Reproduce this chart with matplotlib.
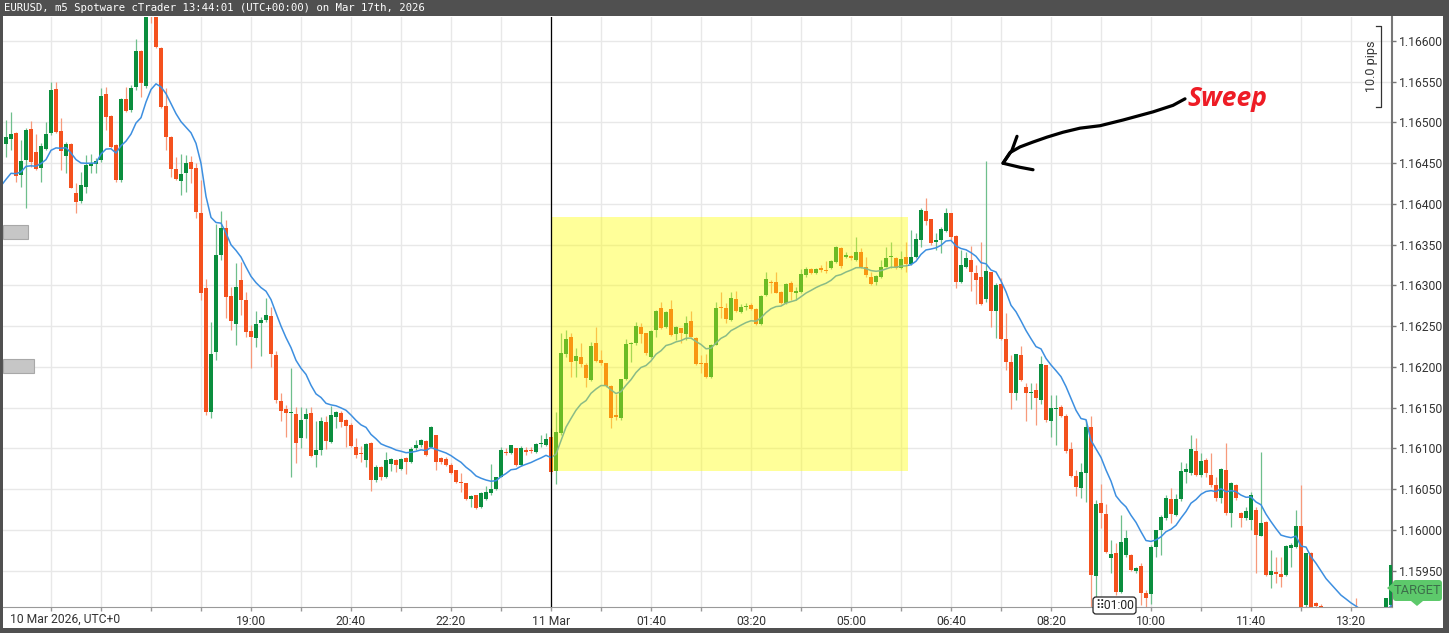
import numpy as np
import pandas as pd
import matplotlib
matplotlib.use('Agg')
import matplotlib.pyplot as plt
from matplotlib.patches import Rectangle, Polygon, FancyBboxPatch
from matplotlib.lines import Line2D
from matplotlib.transforms import IdentityTransform

# EURUSD m5 candles (open, high, low, close), first bar 10 Mar 14:50 UTC
first_bar = '2026-03-10 14:50'

mar10_day = [
    (1.16436, 1.16487, 1.16433, 1.16482), (1.16474, 1.16503, 1.16458, 1.16482),
    (1.16480, 1.16513, 1.16466, 1.16486), (1.16487, 1.16488, 1.16427, 1.16434),
    (1.16436, 1.16479, 1.16421, 1.16453), (1.16454, 1.16493, 1.16395, 1.16491),
    (1.16492, 1.16502, 1.16445, 1.16451), (1.16464, 1.16486, 1.16442, 1.16443),
    (1.16444, 1.16475, 1.16427, 1.16471), (1.16467, 1.16501, 1.16466, 1.16486),
    (1.16487, 1.16550, 1.16485, 1.16540), (1.16541, 1.16550, 1.16487, 1.16488),
    (1.16489, 1.16506, 1.16442, 1.16465), (1.16459, 1.16476, 1.16438, 1.16474),
    (1.16474, 1.16475, 1.16419, 1.16420), (1.16413, 1.16426, 1.16389, 1.16402),
    (1.16404, 1.16439, 1.16401, 1.16423), (1.16421, 1.16460, 1.16413, 1.16448),
    (1.16447, 1.16461, 1.16438, 1.16450), (1.16449, 1.16456, 1.16438, 1.16453),
    (1.16454, 1.16542, 1.16451, 1.16532), (1.16535, 1.16543, 1.16491, 1.16507),
    (1.16508, 1.16509, 1.16469, 1.16470), (1.16472, 1.16473, 1.16427, 1.16429),
    (1.16429, 1.16530, 1.16427, 1.16529), (1.16529, 1.16543, 1.16513, 1.16514),
    (1.16515, 1.16546, 1.16513, 1.16542), (1.16544, 1.16602, 1.16540, 1.16588),
    (1.16588, 1.16589, 1.16531, 1.16548), (1.16545, 1.16655, 1.16542, 1.16650),
    (1.16650, 1.16663, 1.16622, 1.16640), (1.16638, 1.16644, 1.16591, 1.16593),
    (1.16591, 1.16593, 1.16518, 1.16519), (1.16520, 1.16542, 1.16466, 1.16482),
    (1.16482, 1.16483, 1.16433, 1.16443), (1.16443, 1.16458, 1.16429, 1.16431),
    (1.16428, 1.16461, 1.16411, 1.16437), (1.16438, 1.16460, 1.16415, 1.16450),
    (1.16451, 1.16459, 1.16426, 1.16443), (1.16444, 1.16450, 1.16383, 1.16390),
]

mar10_evening = [
    (1.16389, 1.16429, 1.16282, 1.16291), (1.16297, 1.16308, 1.16141, 1.16145),
    (1.16145, 1.16255, 1.16137, 1.16216), (1.16218, 1.16375, 1.16209, 1.16337),
    (1.16337, 1.16391, 1.16331, 1.16371), (1.16371, 1.16380, 1.16260, 1.16286),
    (1.16287, 1.16298, 1.16245, 1.16256), (1.16253, 1.16328, 1.16227, 1.16298),
    (1.16307, 1.16329, 1.16264, 1.16282), (1.16282, 1.16292, 1.16237, 1.16243),
    (1.16244, 1.16252, 1.16199, 1.16237), (1.16235, 1.16269, 1.16225, 1.16253),
    (1.16254, 1.16261, 1.16213, 1.16258), (1.16258, 1.16285, 1.16255, 1.16264),
    (1.16263, 1.16274, 1.16200, 1.16216), (1.16215, 1.16220, 1.16156, 1.16159),
    (1.16158, 1.16168, 1.16134, 1.16146), (1.16148, 1.16153, 1.16114, 1.16144),
    (1.16143, 1.16199, 1.16065, 1.16144), (1.16142, 1.16151, 1.16082, 1.16107),
    (1.16113, 1.16151, 1.16101, 1.16135), (1.16136, 1.16150, 1.16113, 1.16142),
    (1.16144, 1.16151, 1.16090, 1.16091), (1.16092, 1.16134, 1.16077, 1.16098),
    (1.16098, 1.16139, 1.16092, 1.16134), (1.16132, 1.16140, 1.16099, 1.16109),
    (1.16108, 1.16152, 1.16107, 1.16141), (1.16139, 1.16146, 1.16125, 1.16145),
    (1.16144, 1.16146, 1.16126, 1.16133), (1.16135, 1.16136, 1.16102, 1.16128),
    (1.16129, 1.16131, 1.16102, 1.16103), (1.16102, 1.16113, 1.16088, 1.16092),
    (1.16094, 1.16103, 1.16083, 1.16093), (1.16086, 1.16107, 1.16077, 1.16106),
    (1.16107, 1.16108, 1.16048, 1.16061), (1.16061, 1.16080, 1.16059, 1.16077),
    (1.16077, 1.16078, 1.16061, 1.16065), (1.16065, 1.16096, 1.16064, 1.16086),
    (1.16081, 1.16088, 1.16072, 1.16087), (1.16086, 1.16087, 1.16071, 1.16080),
    (1.16075, 1.16088, 1.16073, 1.16087), (1.16088, 1.16089, 1.16069, 1.16083),
    (1.16083, 1.16102, 1.16082, 1.16099), (1.16100, 1.16110, 1.16098, 1.16104),
    (1.16104, 1.16112, 1.16102, 1.16110), (1.16109, 1.16110, 1.16091, 1.16092),
    (1.16102, 1.16128, 1.16101, 1.16126), (1.16117, 1.16117, 1.16074, 1.16083),
    (1.16088, 1.16089, 1.16081, 1.16083), (1.16087, 1.16089, 1.16079, 1.16080),
    (1.16080, 1.16082, 1.16069, 1.16070), (1.16074, 1.16074, 1.16058, 1.16059),
    (1.16059, 1.16070, 1.16047, 1.16058), (1.16058, 1.16058, 1.16037, 1.16038),
    (1.16038, 1.16043, 1.16028, 1.16042), (1.16043, 1.16043, 1.16026, 1.16027),
    (1.16028, 1.16047, 1.16027, 1.16045), (1.16038, 1.16054, 1.16037, 1.16047),
    (1.16045, 1.16081, 1.16043, 1.16050), (1.16050, 1.16065, 1.16049, 1.16065),
    (1.16065, 1.16102, 1.16065, 1.16098), (1.16096, 1.16101, 1.16092, 1.16094),
    (1.16094, 1.16104, 1.16093, 1.16104), (1.16101, 1.16101, 1.16079, 1.16080),
    (1.16080, 1.16103, 1.16079, 1.16101), (1.16098, 1.16102, 1.16092, 1.16096),
    (1.16098, 1.16102, 1.16094, 1.16097), (1.16096, 1.16107, 1.16094, 1.16105),
    (1.16105, 1.16116, 1.16102, 1.16106), (1.16104, 1.16119, 1.16103, 1.16112),
]

asia = [
    (1.16114, 1.16125, 1.16069, 1.16071), (1.16072, 1.16145, 1.16056, 1.16120),
    (1.16119, 1.16242, 1.16117, 1.16217), (1.16216, 1.16245, 1.16212, 1.16234),
    (1.16237, 1.16242, 1.16188, 1.16206), (1.16207, 1.16223, 1.16188, 1.16213),
    (1.16212, 1.16229, 1.16200, 1.16204), (1.16202, 1.16205, 1.16175, 1.16186),
    (1.16184, 1.16231, 1.16183, 1.16226), (1.16229, 1.16249, 1.16206, 1.16207),
    (1.16209, 1.16221, 1.16202, 1.16205), (1.16205, 1.16205, 1.16175, 1.16177),
    (1.16177, 1.16178, 1.16125, 1.16137), (1.16141, 1.16167, 1.16135, 1.16139),
    (1.16137, 1.16185, 1.16135, 1.16185), (1.16185, 1.16234, 1.16184, 1.16228),
    (1.16228, 1.16231, 1.16206, 1.16229), (1.16229, 1.16255, 1.16227, 1.16250),
    (1.16249, 1.16254, 1.16229, 1.16240), (1.16242, 1.16242, 1.16215, 1.16217),
    (1.16212, 1.16245, 1.16211, 1.16244), (1.16245, 1.16270, 1.16237, 1.16269),
    (1.16272, 1.16280, 1.16247, 1.16248), (1.16249, 1.16269, 1.16248, 1.16268),
    (1.16271, 1.16282, 1.16238, 1.16239), (1.16240, 1.16250, 1.16233, 1.16249),
    (1.16248, 1.16248, 1.16229, 1.16242), (1.16241, 1.16263, 1.16233, 1.16254),
    (1.16256, 1.16269, 1.16237, 1.16237), (1.16236, 1.16237, 1.16202, 1.16204),
    (1.16205, 1.16215, 1.16193, 1.16204), (1.16205, 1.16216, 1.16187, 1.16188),
    (1.16188, 1.16228, 1.16187, 1.16227), (1.16227, 1.16280, 1.16227, 1.16272),
    (1.16274, 1.16292, 1.16260, 1.16272), (1.16272, 1.16279, 1.16254, 1.16259),
    (1.16258, 1.16292, 1.16256, 1.16285), (1.16283, 1.16293, 1.16268, 1.16269),
    (1.16268, 1.16277, 1.16266, 1.16274), (1.16273, 1.16279, 1.16270, 1.16275),
    (1.16276, 1.16279, 1.16270, 1.16271), (1.16271, 1.16272, 1.16252, 1.16253),
    (1.16253, 1.16288, 1.16252, 1.16287), (1.16288, 1.16317, 1.16287, 1.16308),
    (1.16304, 1.16307, 1.16291, 1.16303), (1.16304, 1.16317, 1.16291, 1.16291),
    (1.16292, 1.16293, 1.16277, 1.16279), (1.16279, 1.16303, 1.16277, 1.16302),
    (1.16303, 1.16305, 1.16282, 1.16292), (1.16291, 1.16298, 1.16282, 1.16293),
    (1.16292, 1.16320, 1.16291, 1.16314), (1.16313, 1.16323, 1.16311, 1.16320),
    (1.16320, 1.16322, 1.16314, 1.16315), (1.16315, 1.16322, 1.16314, 1.16320),
    (1.16322, 1.16325, 1.16317, 1.16319), (1.16319, 1.16330, 1.16315, 1.16318),
    (1.16321, 1.16331, 1.16320, 1.16330), (1.16329, 1.16348, 1.16328, 1.16347),
    (1.16346, 1.16347, 1.16322, 1.16324), (1.16335, 1.16341, 1.16334, 1.16337),
    (1.16336, 1.16337, 1.16331, 1.16334), (1.16331, 1.16359, 1.16330, 1.16341),
    (1.16341, 1.16346, 1.16322, 1.16323), (1.16323, 1.16335, 1.16311, 1.16313),
    (1.16310, 1.16317, 1.16301, 1.16302), (1.16304, 1.16313, 1.16301, 1.16312),
    (1.16311, 1.16331, 1.16309, 1.16323), (1.16323, 1.16347, 1.16323, 1.16334),
    (1.16335, 1.16353, 1.16321, 1.16336), (1.16334, 1.16335, 1.16320, 1.16322),
    (1.16322, 1.16342, 1.16320, 1.16333), (1.16335, 1.16353, 1.16317, 1.16326),
]

london = [
    (1.16326, 1.16368, 1.16325, 1.16335), (1.16335, 1.16364, 1.16334, 1.16357),
    (1.16356, 1.16395, 1.16347, 1.16393), (1.16391, 1.16407, 1.16374, 1.16379),
    (1.16382, 1.16382, 1.16350, 1.16352), (1.16353, 1.16364, 1.16344, 1.16356),
    (1.16356, 1.16372, 1.16340, 1.16369), (1.16367, 1.16395, 1.16366, 1.16389),
    (1.16389, 1.16389, 1.16356, 1.16360), (1.16361, 1.16362, 1.16297, 1.16304),
    (1.16304, 1.16344, 1.16303, 1.16325), (1.16323, 1.16341, 1.16321, 1.16334),
    (1.16331, 1.16348, 1.16293, 1.16317), (1.16315, 1.16325, 1.16277, 1.16307),
    (1.16310, 1.16353, 1.16276, 1.16277), (1.16283, 1.16453, 1.16280, 1.16318),
    (1.16317, 1.16317, 1.16249, 1.16269), (1.16269, 1.16303, 1.16236, 1.16301),
    (1.16302, 1.16309, 1.16233, 1.16234), (1.16234, 1.16266, 1.16196, 1.16206),
    (1.16206, 1.16215, 1.16148, 1.16168), (1.16168, 1.16216, 1.16159, 1.16216),
    (1.16215, 1.16226, 1.16183, 1.16184), (1.16175, 1.16180, 1.16134, 1.16168),
    (1.16168, 1.16180, 1.16148, 1.16169), (1.16172, 1.16180, 1.16129, 1.16162),
    (1.16159, 1.16213, 1.16155, 1.16204), (1.16202, 1.16202, 1.16132, 1.16135),
    (1.16134, 1.16166, 1.16114, 1.16150), (1.16148, 1.16166, 1.16104, 1.16150),
    (1.16151, 1.16153, 1.16139, 1.16140), (1.16140, 1.16142, 1.16094, 1.16097),
    (1.16099, 1.16108, 1.16065, 1.16066), (1.16066, 1.16073, 1.16042, 1.16053),
    (1.16052, 1.16082, 1.16039, 1.16071), (1.16070, 1.16135, 1.16034, 1.16126),
    (1.16126, 1.16140, 1.15902, 1.15945), (1.15944, 1.16037, 1.15914, 1.16032),
    (1.16033, 1.16056, 1.16002, 1.16021), (1.16020, 1.16032, 1.15972, 1.15973),
    (1.15966, 1.15988, 1.15947, 1.15971), (1.15972, 1.15984, 1.15920, 1.15924),
    (1.15924, 1.16018, 1.15923, 1.15985), (1.15969, 1.16000, 1.15967, 1.15990),
    (1.15969, 1.15971, 1.15950, 1.15951), (1.15950, 1.15955, 1.15947, 1.15953),
    (1.15956, 1.15960, 1.15908, 1.15923), (1.15923, 1.15926, 1.15906, 1.15917),
    (1.15922, 1.15982, 1.15909, 1.15979), (1.15979, 1.16000, 1.15967, 1.16000),
    (1.16000, 1.16018, 1.15969, 1.16016), (1.16015, 1.16043, 1.16012, 1.16039),
    (1.16038, 1.16052, 1.16009, 1.16020), (1.16018, 1.16044, 1.16017, 1.16038),
    (1.16038, 1.16083, 1.16036, 1.16072), (1.16071, 1.16082, 1.16058, 1.16075),
    (1.16070, 1.16117, 1.16067, 1.16099), (1.16097, 1.16113, 1.16066, 1.16067),
    (1.16067, 1.16094, 1.16065, 1.16085), (1.16086, 1.16088, 1.16065, 1.16070),
    (1.16068, 1.16094, 1.16053, 1.16055), (1.16055, 1.16065, 1.16036, 1.16039),
    (1.16039, 1.16076, 1.16033, 1.16075), (1.16074, 1.16107, 1.16018, 1.16021),
    (1.16021, 1.16059, 1.16004, 1.16058), (1.16055, 1.16056, 1.16037, 1.16039),
    (1.16021, 1.16022, 1.16004, 1.16015), (1.16015, 1.16028, 1.16012, 1.16023),
    (1.16012, 1.16047, 1.16000, 1.16043), (1.16024, 1.16028, 1.15947, 1.15994),
    (1.15993, 1.16096, 1.15992, 1.16009), (1.16010, 1.16011, 1.15943, 1.15945),
    (1.15945, 1.15976, 1.15929, 1.15950), (1.15949, 1.15967, 1.15935, 1.15946),
    (1.15946, 1.15967, 1.15930, 1.15942), (1.15945, 1.15982, 1.15944, 1.15980),
    (1.15978, 1.15984, 1.15955, 1.15982), (1.15979, 1.16025, 1.15978, 1.16005),
    (1.16005, 1.16055, 1.15890, 1.15900), (1.15908, 1.15972, 1.15900, 1.15972),
    (1.15972, 1.15973, 1.15880, 1.15890), (1.15911, 1.15912, 1.15900, 1.15907),
    (1.15907, 1.15909, 1.15882, 1.15888), (1.15888, 1.15895, 1.15875, 1.15880),
    (1.15880, 1.15892, 1.15872, 1.15890), (1.15890, 1.15898, 1.15878, 1.15882),
    (1.15882, 1.15890, 1.15870, 1.15876), (1.15876, 1.15888, 1.15868, 1.15885),
    (1.15885, 1.15895, 1.15874, 1.15879), (1.15892, 1.15917, 1.15875, 1.15881),
    (1.15881, 1.15890, 1.15869, 1.15874), (1.15874, 1.15886, 1.15866, 1.15882),
    (1.15882, 1.15892, 1.15873, 1.15888), (1.15888, 1.15896, 1.15878, 1.15892),
    (1.15892, 1.15902, 1.15882, 1.15895), (1.15895, 1.15917, 1.15888, 1.15917),
    (1.15908, 1.15960, 1.15905, 1.15957),
]

# moving average (EMA) as shown, value at left edge
ma_period = 14
ma_start = 1.16413

y_ticks = [1.15950, 1.16000, 1.16050, 1.16100, 1.16150, 1.16200, 1.16250,
           1.16300, 1.16350, 1.16400, 1.16450, 1.16500, 1.16550, 1.16600]
x_tick_times = ['2026-03-10 19:00', '2026-03-10 20:40', '2026-03-10 22:20',
                '2026-03-11 00:00', '2026-03-11 01:40', '2026-03-11 03:20',
                '2026-03-11 05:00', '2026-03-11 06:40', '2026-03-11 08:20',
                '2026-03-11 10:00', '2026-03-11 11:40', '2026-03-11 13:20']
x_tick_labels = ['19:00', '20:40', '22:20', '11 Mar', '01:40', '03:20', '05:00',
                 '06:40', '08:20', '10:00', '11:40', '13:20']

# highlighted range
box_start, box_end = '2026-03-11 00:00', '2026-03-11 05:57'
box_low, box_high = 1.16072, 1.16384

# hand drawn arrow (time offset in minutes from 11 Mar 00:00, price)
arrow_x = [634, 622, 602, 572, 549, 529, 512, 496, 482, 469, 459, 452]
arrow_y = [1.16529, 1.16521, 1.16513, 1.16503, 1.16496, 1.16493, 1.16488,
           1.16482, 1.16476, 1.16470, 1.16463, 1.16450]
head_x = [466, 461, 452, 469, 482]
head_y = [1.16483, 1.16466, 1.16450, 1.16445, 1.16442]

rows = mar10_day + mar10_evening + asia + london
opens = np.array([r[0] for r in rows])
highs = np.array([r[1] for r in rows])
lows = np.array([r[2] for r in rows])
closes = np.array([r[3] for r in rows])

midnight = pd.Timestamp('2026-03-11 00:00')
times = pd.date_range(first_bar, periods=len(rows), freq='5min')
x = ((times - midnight) / pd.Timedelta(minutes=1)).to_numpy()

alpha = 2 / (ma_period + 1)
ma = np.empty(len(closes))
prev = ma_start
for i, c in enumerate(closes):
    prev = prev + alpha * (c - prev)
    ma[i] = prev

plt.rcParams['font.family'] = ['Roboto', 'DejaVu Sans']

W, H = 1449, 633
px = IdentityTransform()


def Y(y):
    return H - y


fig = plt.figure(figsize=(W / 100, H / 100), dpi=100, facecolor='#505050')
fig.add_artist(Rectangle((3, Y(628)), 1440, 612, transform=px,
                         facecolor='white', edgecolor='none', zorder=-1))

ax = fig.add_axes([3 / W, (H - 607) / H, 1389 / W, 590 / H])
ax.set_facecolor('white')
ax.set_xlim(-548, 841)
ax.set_ylim(1.159055, 1.166294)

tick_pos = ((pd.to_datetime(x_tick_times) - midnight) / pd.Timedelta(minutes=1)).to_numpy()
ax.set_xticks(tick_pos)
ax.set_xticklabels(x_tick_labels)
ax.set_xticks(np.arange(-500, 841, 50), minor=True)
ax.set_yticks(y_ticks)
ax.set_yticklabels(['%.5f' % v for v in y_ticks])
ax.yaxis.tick_right()
ax.grid(True, which='both', color='#e8e8e8', lw=1.0)
ax.set_axisbelow(True)
ax.tick_params(axis='y', length=3, width=1, color='#777777', labelsize=8.7,
               labelcolor='#333333', pad=2)
ax.tick_params(axis='x', which='both', length=3, width=1, color='#999999',
               labelsize=8.7, labelcolor='#333333', pad=2.5)
for s in ['top', 'left']:
    ax.spines[s].set_visible(False)
ax.spines['right'].set_color('#777777')
ax.spines['right'].set_linewidth(1.5)
ax.spines['bottom'].set_color('#999999')

up = closes >= opens
body_col = np.where(up, '#0b8e3e', '#f4511e')
wick_col = np.where(up, '#6fbf8c', '#f79a7b')
ax.vlines(x, lows, highs, colors=wick_col, lw=0.9, zorder=2)
ax.bar(x, np.maximum(np.abs(closes - opens), 0.000013), bottom=np.minimum(opens, closes),
       width=3.6, color=body_col, lw=0, zorder=3)
ax.plot(x, ma, color='#3d8fe0', lw=1.1, zorder=4)

bx0 = (pd.Timestamp(box_start) - midnight) / pd.Timedelta(minutes=1)
bx1 = (pd.Timestamp(box_end) - midnight) / pd.Timedelta(minutes=1)
ax.add_patch(Rectangle((bx0, box_low), bx1 - bx0, box_high - box_low,
                       facecolor='#ffff00', alpha=0.4, lw=0, zorder=5))
ax.axvline(0, color='black', lw=0.9, zorder=6)

ax.plot(arrow_x, arrow_y, color='black', lw=2.3, solid_capstyle='round',
        solid_joinstyle='round', zorder=7, clip_on=False)
ax.plot(head_x, head_y, color='black', lw=2.3, solid_capstyle='round',
        solid_joinstyle='round', zorder=7, clip_on=False)
ax.text(636, 1.16530, 'Sweep', color='#ee1c25', fontsize=19, fontweight='bold',
        fontstyle='italic', family=['Open Sans', 'DejaVu Sans'], ha='left', va='center',
        zorder=7)

# header bar
fig.text(4, Y(8), 'EURUSD, m5 Spotware cTrader 13:44:01 (UTC+00:00) on Mar 17th, 2026',
         transform=px, family='DejaVu Sans Mono', fontsize=7.7, color='white', va='center')
fig.text(10, Y(619), '10 Mar 2026, UTC+0', transform=px, fontsize=8.7, color='#333333',
         va='center')

# left side markers
for top, w in [(225, 25), (359, 31)]:
    fig.add_artist(Rectangle((3, Y(top + 14)), w, 14, transform=px, facecolor='#c6c6c6',
                             edgecolor='#a8a8a8', lw=0.8, zorder=5))

# pips ruler
fig.text(1372, Y(66), '10.0 pips', transform=px, rotation=90, ha='center', va='center',
         fontsize=9, color='#333333')
fig.add_artist(Line2D([1376, 1381, 1381, 1376], [Y(26), Y(26), Y(107), Y(107)],
                      transform=px, color='#333333', lw=0.9))

# TARGET tag
fig.add_artist(FancyBboxPatch((1393, Y(601)), 49, 21, boxstyle='round,pad=0,rounding_size=3',
                              transform=px, facecolor='#5dc96b', edgecolor='none', zorder=5))
fig.add_artist(Polygon([(1411, Y(601)), (1423, Y(601)), (1417, Y(606))], transform=px,
                       facecolor='#5dc96b', edgecolor='none', zorder=5))
fig.add_artist(Polygon([(1393, Y(583)), (1393, Y(593)), (1387, Y(588))], transform=px,
                       facecolor='#5dc96b', edgecolor='none', zorder=5))
fig.text(1418, Y(590.5), 'TARGET', transform=px, ha='center', va='center', fontsize=9.3,
         color='#3c6e4a', zorder=6)

# cursor time tag
fig.add_artist(FancyBboxPatch((1093, Y(614)), 43, 17, boxstyle='round,pad=0,rounding_size=3',
                              transform=px, facecolor='white', edgecolor='#222222', lw=0.9,
                              zorder=5))
fig.text(1114.5, Y(605.5), '\u283f01:00', transform=px, ha='center', va='center',
         fontsize=8.7, color='#222222', family=['Roboto', 'DejaVu Sans'], zorder=6)

fig.savefig('out.png', dpi=100, facecolor=fig.get_facecolor())
